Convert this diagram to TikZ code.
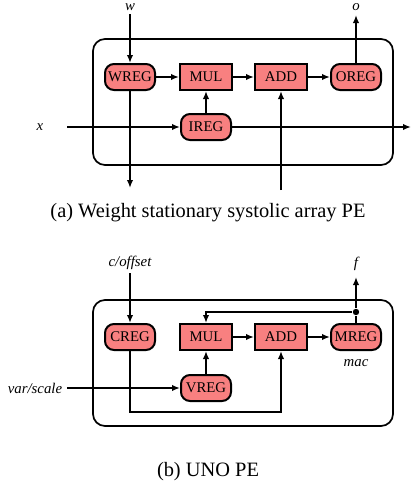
\documentclass[tikz,border=0pt]{standalone}
\usepackage{fontspec}
\setmainfont{Liberation Serif}
\usetikzlibrary{arrows.meta,positioning}
\definecolor{regred}{HTML}{F88080}

\begin{document}
\begin{tikzpicture}[
        x=0.5pt, y=-0.5pt,
        >={Latex[length=4pt,width=3.2pt]},
        line width=0.85pt,
        reg/.style={draw, fill=regred, rectangle, rounded corners=4.5pt, line width=1pt,
                    minimum width=25pt, minimum height=13pt, inner sep=1pt,
                    font=\fontsize{7.4}{8}\selectfont},
        unit/.style={draw, fill=regred, rectangle, line width=1pt,
                     minimum width=26pt, minimum height=13pt, inner sep=1pt,
                     font=\fontsize{7.4}{8}\selectfont},
        lbl/.style={inner sep=1pt, font=\fontsize{7.4}{8}\selectfont\itshape},
        pe/.style={draw, rounded corners=6pt, minimum width=150pt, minimum height=63pt},
        dot/.style={circle, fill, inner sep=0pt, minimum size=3.2pt},
        subcap/.style={font=\fontsize{10.2}{12}\selectfont},
    ]
    \useasboundingbox (0,0) rectangle (412,488);

    % (a) weight stationary PE
    \node [pe] (peA) at (243,102) {};
    \node [reg]  (wregA) at (130,77)  {WREG};
    \node [unit] (mulA)  at (206,77)  {MUL};
    \node [unit] (addA)  at (281,77)  {ADD};
    \node [reg]  (oregA) at (356,77)  {OREG};
    \node [reg]  (iregA) at (206,127) {IREG};
    \coordinate (wIn)   at (130,14);
    \coordinate (wOut)  at (130,188);
    \coordinate (oOut)  at (356,15);
    \coordinate (xIn)   at (67,127);
    \coordinate (xOut)  at (411,127);
    \coordinate (addIn) at (281,190);
    \node [lbl, above=0.5pt of wIn]  (wLbl) {w};
    \node [lbl, above=0.8pt of oOut] (oLbl) {o};
    \node [lbl, left=10.5pt of xIn] (xLbl) {x};

    \draw [->] (wIn) -- (wregA);
    \draw [->] (wregA) -- (wOut);
    \draw [->] (wregA) -- (mulA);
    \draw [->] (mulA) -- (addA);
    \draw [->] (addA) -- (oregA);
    \draw [->] (oregA) -- (oOut);
    \draw [->] (iregA) -- (mulA);
    \draw [->] (xIn) -- (iregA);
    \draw [->] (iregA) -- (xOut);
    \draw [->] (addIn) -- (addA);

    \node [subcap, anchor=base] (capA) at (208,217) {(a) Weight stationary systolic array PE};

    % (b) UNO PE
    \node [pe] (peB) at (243,363) {};
    \node [reg]  (cregB) at (130,337) {CREG};
    \node [unit] (mulB)  at (206,337) {MUL};
    \node [unit] (addB)  at (281,337) {ADD};
    \node [reg]  (mregB) at (356,337) {MREG};
    \node [reg]  (vregB) at (206,388) {VREG};
    \node [dot]  (tap)   at (356,312) {};
    \coordinate (cIn)  at (130,273);
    \coordinate (fOut) at (356,277);
    \coordinate (vIn)  at (67,388);
    \coordinate (bend) at (130,412);
    \node [lbl, above=0.5pt of cIn]  (cLbl)   {c/offset};
    \node [lbl, above=2pt of fOut]   (fLbl)   {f};
    \node [lbl, left=1pt of vIn]     (vLbl)   {var/scale};
    \node [lbl, below=3pt of mregB]  (macLbl) {mac};

    \draw [->] (cIn) -- (cregB);
    \draw [->] (mulB) -- (addB);
    \draw [->] (addB) -- (mregB);
    \draw [->] (vregB) -- (mulB);
    \draw [->] (vIn) -- (vregB);
    \draw (mregB) -- (tap);
    \draw [->] (tap) -- (fOut);
    \draw [->] (tap) -| (mulB);
    \draw [->] (cregB) -- (bend) -| (addB);

    \node [subcap, anchor=base] (capB) at (208,476) {(b) UNO PE};
\end{tikzpicture}
\end{document}
